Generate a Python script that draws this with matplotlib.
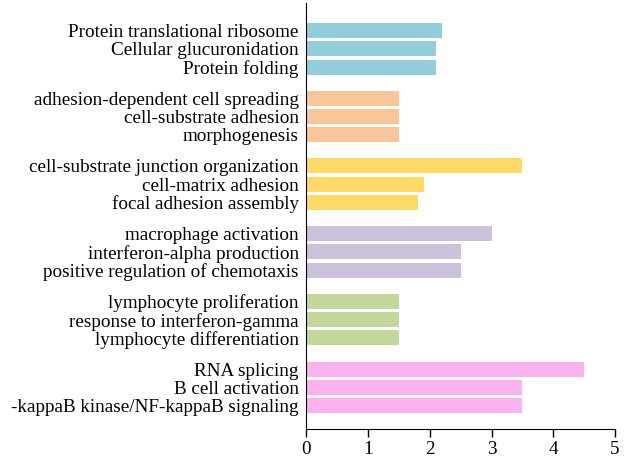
import matplotlib.pyplot as plt

labels = [
    "Protein translational ribosome", "Cellular glucuronidation", "Protein folding",
    "adhesion-dependent cell spreading", "cell-substrate adhesion", "morphogenesis",
    "cell-substrate junction organization", "cell-matrix adhesion", "focal adhesion assembly",
    "macrophage activation", "interferon-alpha production", "positive regulation of chemotaxis",
    "lymphocyte proliferation", "response to interferon-gamma", "lymphocyte differentiation",
    "RNA splicing", "B cell activation", "-kappaB kinase/NF-kappaB signaling",
]
values = [2.2, 2.1, 2.1,
          1.5, 1.5, 1.5,
          3.5, 1.9, 1.8,
          3.0, 2.5, 2.5,
          1.5, 1.5, 1.5,
          4.5, 3.5, 3.5]
group_colors = ["#92CDDC", "#FAC598", "#FFD966", "#CCC1DA", "#C4D79B", "#F9B2EC"]

plt.rcParams['font.family'] = ['Liberation Serif', 'DejaVu Serif']
plt.rcParams['font.size'] = 13.8

fig = plt.figure(figsize=(6.26, 4.74), dpi=100)
ax = fig.add_axes([0.4896, 0.0940, 0.4928, 0.8997])

ypos = []
cols = []
for i in range(len(values)):
    g, k = divmod(i, 3)
    ypos.append(g * 3.7 + k)
    cols.append(group_colors[g])

ax.barh(ypos, values, height=0.82, color=cols)
ax.set_yticks(ypos)
ax.set_yticklabels(labels)
ax.tick_params(axis='y', length=0, pad=5.5)
ax.tick_params(axis='x', length=6, width=1, pad=2)
ax.set_ylim(21.8, -1.5)
ax.set_xlim(0, 5)
ax.spines['top'].set_visible(False)
ax.spines['right'].set_visible(False)

plt.savefig("out.png", dpi=100)
